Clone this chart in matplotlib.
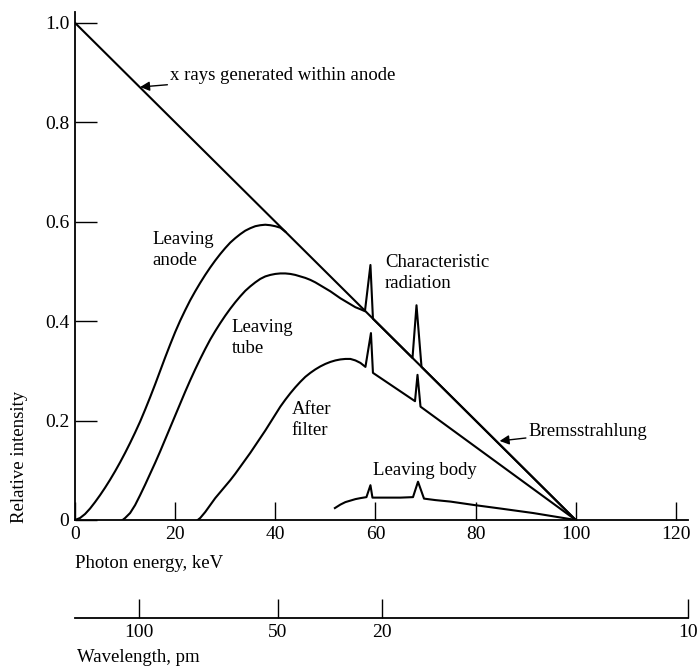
import matplotlib.pyplot as plt

plt.rcParams['font.family'] = ['Liberation Serif', 'DejaVu Serif']

# ===================================================================
# DATA
# ===================================================================

# Bremsstrahlung / x rays generated within anode
brems_kev = [0, 100]
brems_int = [1.0, 0.0]

# Leaving anode
anode_kev = [0, 1, 2, 3, 4, 5, 6, 7, 8, 9, 10, 11, 12, 13, 14, 15, 16, 17,
             18, 19, 20, 21, 22, 23, 24, 25, 26, 27, 28, 29, 30, 31, 32, 33,
             34, 35, 36, 37, 38, 39, 40, 41, 42]
anode_int = [0.0, 0.004, 0.012, 0.023, 0.036, 0.05, 0.065, 0.081, 0.098,
             0.116, 0.135, 0.155, 0.176, 0.198, 0.222, 0.247, 0.273, 0.3,
             0.327, 0.353, 0.378, 0.401, 0.422, 0.442, 0.46, 0.477, 0.493,
             0.508, 0.522, 0.535, 0.547, 0.558, 0.567, 0.575, 0.582, 0.587,
             0.591, 0.593, 0.594, 0.593, 0.591, 0.588, 0.58]

# Leaving tube (joins bremsstrahlung line, carries characteristic peaks)
tube_kev = [9.5, 10, 11, 12, 13, 14, 15, 16, 17, 18, 19, 20, 21, 22, 23, 24,
            25, 26, 27, 28, 29, 30, 31, 32, 33, 34, 35, 36, 37, 38, 39, 40,
            41, 42, 43, 44, 45, 46, 47, 48, 49, 50, 51, 52, 53, 54, 55, 56,
            57, 57.9, 59, 59.5, 67.4, 68.2, 69.2, 100]
tube_int = [0.0, 0.004, 0.014, 0.03, 0.05, 0.071, 0.093, 0.115, 0.138,
            0.162, 0.186, 0.21, 0.234, 0.258, 0.281, 0.303, 0.324, 0.344,
            0.363, 0.38, 0.396, 0.411, 0.425, 0.438, 0.45, 0.461, 0.47,
            0.478, 0.485, 0.49, 0.493, 0.495, 0.496, 0.496, 0.495, 0.493,
            0.49, 0.487, 0.483, 0.478, 0.472, 0.466, 0.46, 0.453, 0.446,
            0.44, 0.434, 0.428, 0.424, 0.42, 0.513, 0.405, 0.326, 0.432,
            0.308, 0.0]

# After filter
filt_kev = [24.5, 25, 26, 27, 28, 29, 30, 31, 32, 33, 34, 35, 36, 37, 38,
            39, 40, 41, 42, 43, 44, 45, 46, 47, 48, 49, 50, 51, 52, 53, 54,
            55, 56, 57, 58, 59.1, 59.5, 67.9, 68.4, 69, 100]
filt_int = [0.0, 0.004, 0.016, 0.03, 0.044, 0.056, 0.068, 0.08, 0.093,
            0.107, 0.121, 0.135, 0.15, 0.165, 0.18, 0.196, 0.212, 0.228,
            0.242, 0.255, 0.267, 0.278, 0.288, 0.296, 0.303, 0.309, 0.314,
            0.318, 0.321, 0.323, 0.324, 0.324, 0.321, 0.316, 0.308, 0.376,
            0.296, 0.239, 0.292, 0.228, 0.0]

# Leaving body
body_kev = [51.9, 53, 54, 55, 56, 57, 58.2, 59, 59.4, 61, 63, 65, 67.5, 68.5,
            69.7, 72, 75, 79.8, 85, 91.5, 100]
body_int = [0.024, 0.031, 0.036, 0.039, 0.042, 0.044, 0.046, 0.07, 0.045,
            0.045, 0.045, 0.045, 0.046, 0.077, 0.043, 0.04, 0.037, 0.03,
            0.023, 0.014, 0.0]

# Axis ticks
energy_ticks = [0, 20, 40, 60, 80, 100, 120]
intensity_ticks = [0, 0.2, 0.4, 0.6, 0.8, 1.0]
intensity_labels = ['0', '0.2', '0.4', '0.6', '0.8', '1.0']

# Wavelength scale (positions on the energy axis as drawn in the figure)
wl_tick_kev = [12.8, 40.6, 61.4, 122.6]
wl_labels = ['100', '50', '20', '10']

# ===================================================================
# PLOT
# ===================================================================

fig = plt.figure(figsize=(6.98, 6.72), dpi=100)
ax = fig.add_axes([0.1075, 0.2262, 0.878, 0.756])

lw = 1.5
ax.plot(brems_kev, brems_int, color='black', linewidth=lw)
ax.plot(anode_kev, anode_int, color='black', linewidth=lw)
ax.plot(tube_kev, tube_int, color='black', linewidth=lw)
ax.plot(filt_kev, filt_int, color='black', linewidth=lw)
ax.plot(body_kev, body_int, color='black', linewidth=lw)

ax.set_xlim(0, 122.4)
ax.set_ylim(0, 1.022)
ax.spines['top'].set_visible(False)
ax.spines['right'].set_visible(False)
ax.spines['left'].set_linewidth(1.3)
ax.spines['bottom'].set_linewidth(1.3)

ax.set_xticks(energy_ticks)
ax.set_xticklabels([str(t) for t in energy_ticks])
ax.set_yticks(intensity_ticks)
ax.set_yticklabels(intensity_labels)
ax.tick_params(axis='x', direction='in', length=13, width=1.0, labelsize=14, pad=4)
ax.tick_params(axis='y', direction='in', length=16, width=1.0, labelsize=14, pad=4)

ax.set_ylabel("Relative intensity", fontsize=13.5)
ax.yaxis.set_label_coords(-0.077, 0.125)

fs = 13.5
arrow = dict(arrowstyle='-|>', color='black', linewidth=1.0,
             mutation_scale=14, shrinkA=0, shrinkB=0)
ax.annotate("x rays generated within anode", xy=(13, 0.871), xytext=(19, 0.895),
            fontsize=fs, va='center', ha='left', arrowprops=arrow)
ax.annotate("Bremsstrahlung", xy=(84.8, 0.159), xytext=(90.6, 0.179),
            fontsize=fs, va='center', ha='left', arrowprops=arrow)
ax.text(15.4, 0.543, "Leaving\nanode", fontsize=fs, va='center', ha='left', linespacing=1.25)
ax.text(31.3, 0.366, "Leaving\ntube", fontsize=fs, va='center', ha='left', linespacing=1.25)
ax.text(43.3, 0.201, "After\nfilter", fontsize=fs, va='center', ha='left', linespacing=1.25)
ax.text(61.9, 0.497, "Characteristic\nradiation", fontsize=fs, va='center', ha='left', linespacing=1.25)
ax.text(59.5, 0.099, "Leaving body", fontsize=fs, va='center', ha='left')

fig.text(75 / 698, 1 - 563 / 672, "Photon energy, keV", fontsize=fs, va='center', ha='left')

# Wavelength scale below
ax2 = fig.add_axes([0.1075, 1 - 618 / 672, 0.878, 0.001])
ax2.set_xlim(ax.get_xlim())
ax2.set_yticks([])
for side in ['top', 'right', 'left']:
    ax2.spines[side].set_visible(False)
ax2.spines['bottom'].set_linewidth(1.3)
ax2.patch.set_visible(False)
ax2.set_xticks(wl_tick_kev)
ax2.set_xticklabels(wl_labels)
ax2.tick_params(axis='x', direction='in', length=14, width=1.0, labelsize=14, pad=4)

fig.text(77 / 698, 1 - 658 / 672, "Wavelength, pm", fontsize=fs, va='center', ha='left')

plt.savefig('out.png', dpi=100)
